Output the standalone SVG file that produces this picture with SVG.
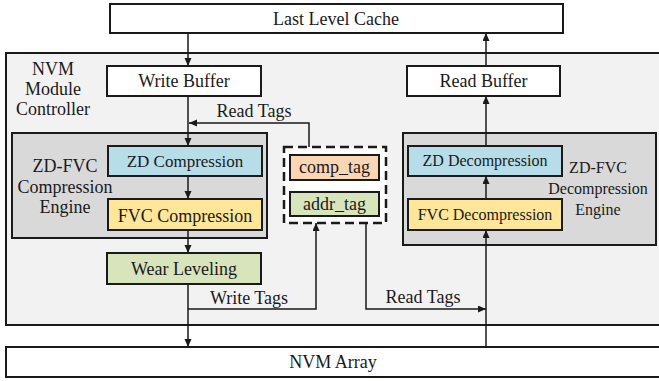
<svg xmlns="http://www.w3.org/2000/svg" width="659" height="381" viewBox="0 0 659 381">
<style>
text{font-family:"Liberation Serif","Times New Roman",serif;font-size:18px;fill:#1a1a1a;text-anchor:middle}
.s16{font-size:16px}
.box{stroke:#1a1a1a;stroke-width:2}
.ln{fill:none;stroke:#1a1a1a;stroke-width:1.5}
</style>
<defs>
<marker id="ah" markerUnits="userSpaceOnUse" markerWidth="9" markerHeight="8" refX="8" refY="3.5" orient="auto">
<path d="M0,0 L8,3.5 L0,7 z" fill="#1a1a1a"/>
</marker>
</defs>
<rect width="659" height="381" fill="#fff"/>
<g id="controller">
<rect class="box" x="6" y="53" width="660" height="272" fill="#f2f2f2"/>
<text x="53" y="75">NVM</text>
<text x="53" y="95">Module</text>
<text x="53" y="115">Controller</text>
</g>
<g id="llc">
<rect class="box" x="110" y="4" width="453" height="29" fill="#fff"/>
<text x="336" y="25">Last Level Cache</text>
</g>
<g id="nvm-array">
<rect class="box" x="6" y="347" width="660" height="30" fill="#fff"/>
<text x="333" y="368">NVM Array</text>
</g>
<g id="write-buffer">
<rect class="box" x="107" y="66" width="154" height="30" fill="#fff"/>
<text x="184" y="87">Write Buffer</text>
</g>
<g id="read-buffer">
<rect class="box" x="407" y="66" width="153" height="30" fill="#fff"/>
<text x="483.5" y="87">Read Buffer</text>
</g>
<g id="comp-engine">
<rect class="box" x="12" y="133" width="255" height="105" fill="#d9d9d9"/>
<text x="65" y="172">ZD-FVC</text>
<text x="65" y="193">Compression</text>
<text x="65" y="213">Engine</text>
</g>
<g id="zd-comp">
<rect class="box" x="108" y="146" width="154" height="30" fill="#b7dee8"/>
<text x="185" y="167" style="font-size:17px">ZD Compression</text>
</g>
<g id="fvc-comp">
<rect class="box" x="108" y="199" width="154" height="31" fill="#ffe699"/>
<text x="185" y="222">FVC Compression</text>
</g>
<g id="wear-leveling">
<rect class="box" x="107" y="253" width="154" height="31" fill="#d8e4bc"/>
<text x="184" y="275">Wear Leveling</text>
</g>
<g id="tag-store">
<rect x="284" y="147" width="102" height="76" fill="#fff" stroke="#1a1a1a" stroke-width="2.5" stroke-dasharray="9,5"/>
</g>
<g id="comp-tag">
<rect class="box" x="290" y="155" width="89" height="25" fill="#fcd5b4"/>
<text x="334.5" y="173">comp_tag</text>
</g>
<g id="addr-tag">
<rect class="box" x="290" y="192" width="89" height="24" fill="#d8e4bc"/>
<text x="334.5" y="210">addr_tag</text>
</g>
<g id="decomp-engine">
<rect class="box" x="403" y="133" width="253" height="112" fill="#d9d9d9"/>
<text class="s16" x="598" y="173">ZD-FVC</text>
<text class="s16" x="598" y="194">Decompression</text>
<text class="s16" x="598" y="215">Engine</text>
</g>
<g id="zd-decomp">
<rect class="box" x="408" y="146" width="154" height="30" fill="#b7dee8"/>
<text class="s16" x="485" y="166">ZD Decompression</text>
</g>
<g id="fvc-decomp">
<rect class="box" x="408" y="199" width="154" height="31" fill="#ffe699"/>
<text class="s16" x="485" y="220">FVC Decompression</text>
</g>
<g id="connectors">
<path class="ln" d="M188,33 L188,66" marker-end="url(#ah)"/>
<path class="ln" d="M188,96 L188,146" marker-end="url(#ah)"/>
<path class="ln" d="M188,176 L188,199" marker-end="url(#ah)"/>
<path class="ln" d="M188,230 L188,253" marker-end="url(#ah)"/>
<path class="ln" d="M188,284 L188,347" marker-end="url(#ah)"/>
<path class="ln" d="M309,147 L309,123 L189,123" marker-end="url(#ah)"/>
<path class="ln" d="M188,309 L316,309 L316,223" marker-end="url(#ah)"/>
<path class="ln" d="M366,223 L366,309 L486,309" marker-end="url(#ah)"/>
<path class="ln" d="M486,347 L486,230" marker-end="url(#ah)"/>
<path class="ln" d="M486,199 L486,176" marker-end="url(#ah)"/>
<path class="ln" d="M486,146 L486,96" marker-end="url(#ah)"/>
<path class="ln" d="M486,66 L486,33" marker-end="url(#ah)"/>
<text x="254" y="117">Read Tags</text>
<text x="249" y="304">Write Tags</text>
<text x="423" y="303">Read Tags</text>
</g>
</svg>
